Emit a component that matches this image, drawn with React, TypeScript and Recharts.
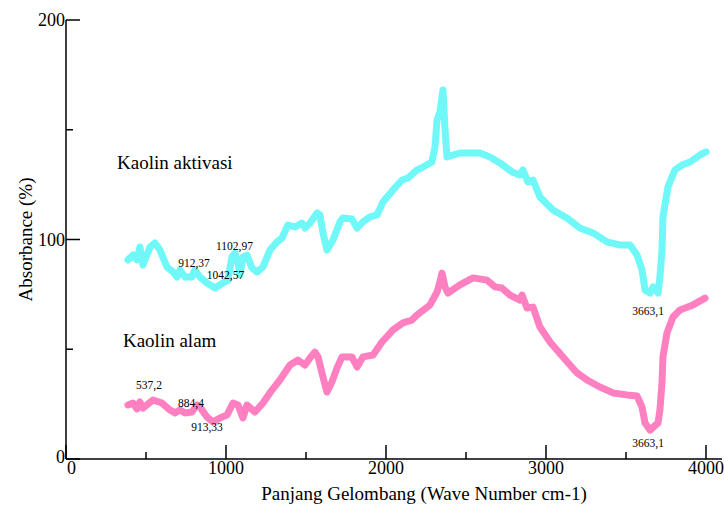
import React from 'react';
import { LineChart, Line, XAxis, YAxis, ReferenceDot } from 'recharts';

// Kaolin aktivasi (cyan)
const aktivasiWave = [387,419,444,462,481,525,556,587,631,669,694,712,744,787,806,837,881,931,981,1012,1037,1056,1075,1087,1106,1131,1162,1194,1231,1275,1319,1350,1387,1431,1475,1494,1525,1569,1587,1606,1631,1669,1712,1731,1787,1819,1856,1900,1944,1981,2044,2100,2137,2194,2231,2287,2306,2319,2337,2356,2369,2381,2462,2587,2650,2712,2787,2837,2856,2887,2919,2962,3044,3131,3212,3294,3381,3462,3525,3569,3600,3619,3650,3669,3700,3712,3725,3731,3762,3806,3850,3900,3962,4000];
const aktivasiAbs = [90.7,92.9,90.7,96.6,88.4,96.6,98.4,95.2,87.5,85.2,82.9,86.1,82.9,82.9,86.1,82.9,80.2,77.9,80.2,81.5,92.0,93.8,89.3,83.8,92.0,92.9,87.0,85.2,87.5,95.2,98.9,100.7,106.6,105.7,107.5,105.2,107.5,112.1,111.2,103.0,95.2,99.8,108.0,109.8,109.3,105.2,108.0,110.3,111.2,117.1,122.6,127.1,128.0,131.7,133.0,135.3,142.1,154.4,158.1,168.1,149.9,137.6,139.4,139.4,137.6,134.9,130.8,129.4,131.7,126.2,127.1,119.4,113.4,109.8,105.2,103.0,98.9,97.5,97.5,92.9,86.1,77.0,75.6,78.4,75.6,82.9,95.2,110.3,123.9,131.7,133.9,135.3,138.5,139.9];

// Kaolin alam (pink)
const alamWave = [387,419,444,462,481,544,600,650,681,712,744,787,819,837,881,919,962,1006,1044,1075,1106,1131,1181,1231,1287,1337,1400,1450,1494,1525,1556,1575,1606,1631,1662,1694,1725,1787,1819,1856,1919,1975,2044,2106,2162,2194,2275,2319,2337,2350,2369,2387,2462,2544,2631,2681,2725,2775,2837,2850,2881,2919,2962,3025,3106,3194,3256,3337,3419,3506,3569,3600,3619,3650,3700,3712,3725,3731,3756,3794,3837,3919,3994];
const alamAbs = [24.6,25.5,22.8,26.0,23.2,26.9,25.5,22.3,21.0,22.3,21.0,21.4,24.6,23.7,19.1,16.9,18.7,20.0,25.5,24.6,18.7,24.6,21.4,25.5,31.4,36.0,42.8,45.1,42.8,46.0,48.7,46.5,37.4,30.5,35.1,41.5,46.5,46.5,41.9,46.5,47.4,53.3,58.8,62.0,63.3,65.6,70.2,76.1,80.6,84.7,78.4,75.6,79.3,82.5,81.5,78.4,77.9,74.7,72.4,74.7,68.8,69.2,60.1,53.3,46.5,39.2,36.0,32.8,30.1,29.2,28.7,23.7,16.4,13.2,16.4,22.3,34.6,46.5,57.4,64.7,67.9,70.2,73.3];

const xTicks = [0,500,1000,1500,2000,2500,3000,3500,4000];
const xLabelTicks = [0,1000,2000,3000,4000];
const yTicks = [0,50,100,150,200];
const yLabelTicks = [0,100,200];

const peakText = ['1102,97','912,37','1042,57','3663,1','537,2','884,4','913,33','3663,1'];
const peakWave = [1053,800,997,3638,519,781,881,3638];
const peakAbs = [97.0,89.4,83.8,67.4,33.7,25.5,14.6,7.3];

const seriesText = ['Kaolin aktivasi','Kaolin alam'];
const seriesTextWave = [319,356];
const seriesTextAbs = [134.9,54.2];

const aktivasiData = aktivasiWave.map((w, i) => ({ wave: w, abs: aktivasiAbs[i] }));
const alamData = alamWave.map((w, i) => ({ wave: w, abs: alamAbs[i] }));

const FONT = "'Liberation Serif', 'Times New Roman', serif";
const MAJOR = 14;
const MINOR = 7;

const BottomTick = (props: any) => {
  const { x, y, payload } = props;
  const v = payload.value;
  const major = xLabelTicks.includes(v);
  const first = v === xLabelTicks[0];
  return (
    <g>
      <line x1={x} y1={y} x2={x} y2={y - (major ? MAJOR : MINOR)} stroke="#000" strokeWidth={1.5} />
      {major && (
        <text x={first ? x + 1 : x} y={y + 15} textAnchor={first ? 'start' : 'middle'} fontSize={18} fontFamily={FONT} fill="#000">{v}</text>
      )}
    </g>
  );
};

const TopTick = (props: any) => {
  const { x, y, payload } = props;
  const major = xLabelTicks.includes(payload.value);
  return <line x1={x} y1={y} x2={x} y2={y + (major ? MAJOR : MINOR)} stroke="#000" strokeWidth={1.5} />;
};

const LeftTick = (props: any) => {
  const { x, y, payload } = props;
  const v = payload.value;
  const major = yLabelTicks.includes(v);
  return (
    <g>
      <line x1={x} y1={y} x2={x + (major ? MAJOR : MINOR)} y2={y} stroke="#000" strokeWidth={1.5} />
      {major && (
        <text x={x - 1} y={y + (v === 0 ? 4 : 6)} textAnchor="end" fontSize={18} fontFamily={FONT} fill="#000">{v}</text>
      )}
    </g>
  );
};

const RightTick = (props: any) => {
  const { x, y, payload } = props;
  const major = yLabelTicks.includes(payload.value);
  return <line x1={x} y1={y} x2={x - (major ? MAJOR : MINOR)} y2={y} stroke="#000" strokeWidth={1.5} />;
};

const axisLine = { stroke: '#000', strokeWidth: 1.5 };

export default function App() {
  return (
    <div>
      <style>{'body{margin:0;}'}</style>
      <LineChart width={724} height={507} margin={{ top: 20, right: 2, left: 0, bottom: 0 }}>
        <XAxis
          xAxisId="b"
          dataKey="wave"
          type="number"
          domain={[0, 4100]}
          allowDataOverflow
          ticks={xTicks}
          tick={BottomTick}
          tickLine={false}
          tickSize={0}
          tickMargin={0}
          axisLine={axisLine}
          height={48}
          label={{
            content: (p: any) => {
              const vb = p.viewBox;
              return (
                <text x={vb.x + vb.width / 2 + 30} y={vb.y + 41} textAnchor="middle" fontSize={19} fontFamily={FONT} fill="#000">
                  Panjang Gelombang (Wave Number cm-1)
                </text>
              );
            },
          }}
        />
        <XAxis
          xAxisId="t"
          orientation="top"
          type="number"
          domain={[0, 4100]}
          allowDataOverflow
          ticks={xTicks}
          tick={TopTick}
          tickLine={false}
          tickSize={0}
          tickMargin={0}
          axisLine={axisLine}
          height={0}
        />
        <YAxis
          yAxisId="l"
          type="number"
          domain={[0, 200]}
          ticks={yTicks}
          tick={LeftTick}
          tickLine={false}
          tickSize={0}
          tickMargin={0}
          axisLine={axisLine}
          width={66}
          label={{
            content: (p: any) => {
              const vb = p.viewBox;
              const cx = vb.x + 25;
              const cy = vb.y + vb.height / 2;
              return (
                <text x={cx} y={cy} transform={`rotate(-90, ${cx}, ${cy})`} textAnchor="middle" dominantBaseline="central" fontSize={19} fontFamily={FONT} fill="#000">
                  Absorbance (%)
                </text>
              );
            },
          }}
        />
        <YAxis
          yAxisId="r"
          orientation="right"
          type="number"
          domain={[0, 200]}
          ticks={yTicks}
          tick={RightTick}
          tickLine={false}
          tickSize={0}
          tickMargin={0}
          axisLine={axisLine}
          width={0}
        />
        <Line
          xAxisId="b"
          yAxisId="l"
          data={aktivasiData}
          dataKey="abs"
          type="linear"
          stroke="#70f8f8"
          strokeWidth={7}
          strokeLinejoin="round"
          strokeLinecap="round"
          dot={false}
          activeDot={false}
          isAnimationActive={false}
        />
        <Line
          xAxisId="b"
          yAxisId="l"
          data={alamData}
          dataKey="abs"
          type="linear"
          stroke="#ff80c0"
          strokeWidth={7}
          strokeLinejoin="round"
          strokeLinecap="round"
          dot={false}
          activeDot={false}
          isAnimationActive={false}
        />
        {peakText.map((t, i) => (
          <ReferenceDot
            key={'p' + i}
            xAxisId="b"
            yAxisId="l"
            x={peakWave[i]}
            y={peakAbs[i]}
            r={1}
            shape={(s: any) => (
              <text x={s.cx} y={s.cy} textAnchor="middle" dominantBaseline="central" fontSize={11.5} fontFamily={FONT} fill="#000">
                {t}
              </text>
            )}
          />
        ))}
        {seriesText.map((t, i) => (
          <ReferenceDot
            key={'s' + i}
            xAxisId="b"
            yAxisId="l"
            x={seriesTextWave[i]}
            y={seriesTextAbs[i]}
            r={1}
            shape={(s: any) => (
              <text x={s.cx} y={s.cy} textAnchor="start" dominantBaseline="central" fontSize={19} fontFamily={FONT} fill="#000">
                {t}
              </text>
            )}
          />
        ))}
      </LineChart>
    </div>
  );
}
